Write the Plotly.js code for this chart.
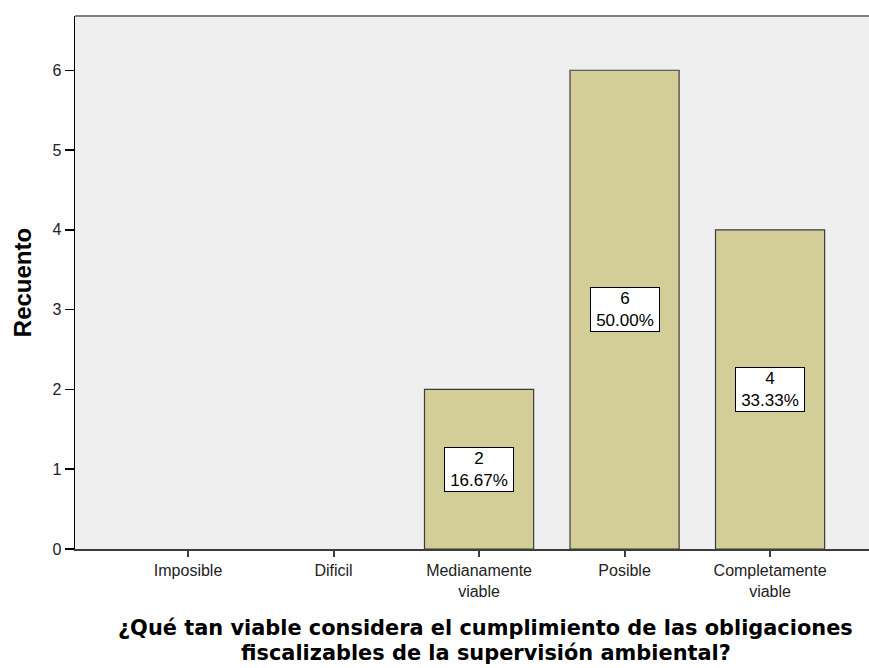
<!DOCTYPE html>
<html>
<head>
<meta charset="utf-8">
<script src="https://cdn.plot.ly/plotly-3.0.1.min.js"></script>
<style>html,body{margin:0;padding:0;background:#fff;}#chart{width:869px;height:668px;}</style>
</head>
<body>
<div id="chart"></div>
<script>
const categories = ["Imposible", "Dificil", "Medianamente<br>viable", "Posible", "Completamente<br>viable"];
const counts = [0, 0, 2, 6, 4];
const percents = ["0.00%", "0.00%", "16.67%", "50.00%", "33.33%"];
const yTicks = [0, 1, 2, 3, 4, 5, 6];
const xTitleLines = [
  "¿Qué tan viable considera el cumplimiento de las obligaciones",
  "fiscalizables de la supervisión ambiental?"
];

const trace = {
  type: "bar",
  x: categories,
  y: counts.map(v => (v > 0 ? v : null)),
  width: 0.75,
  marker: {color: "#d3ce97", line: {color: "#3c3c3c", width: 1.2}},
  hoverinfo: "none"
};

const annotations = [];
categories.forEach((c, i) => {
  if (counts[i] > 0) {
    annotations.push({
      x: c, y: counts[i] / 2, xref: "x", yref: "y",
      text: counts[i] + "<br>" + percents[i],
      showarrow: false,
      font: {family: "Liberation Sans, Arial, sans-serif", size: 17, color: "#000"},
      bgcolor: "#ffffff", bordercolor: "#000000", borderwidth: 1, borderpad: 1,
      width: 66, align: "center"
    });
  }
});
xTitleLines.forEach((line, k) => {
  annotations.push({
    xref: "paper", yref: "paper", x: 0.5176, y: 0, yshift: -79 - 24.5 * k, yanchor: "middle",
    text: line,
    showarrow: false,
    font: {family: "DejaVu Sans, sans-serif", size: 20.9, color: "#000", weight: "bold"},
    align: "center"
  });
});

const layout = {
  width: 869, height: 668,
  margin: {l: 75, r: 0, t: 16, b: 119},
  paper_bgcolor: "#ffffff",
  plot_bgcolor: "#efefef",
  showlegend: false,
  xaxis: {
    type: "category",
    range: [-0.777, 4.68],
    showgrid: false, zeroline: false,
    showline: true, linecolor: "#3c3c3c", linewidth: 1.5,
    ticks: "outside", ticklen: 6, tickcolor: "#3c3c3c", tickwidth: 2,
    tickfont: {family: "Liberation Sans, Arial, sans-serif", size: 16, color: "#222"},
    fixedrange: true
  },
  yaxis: {
    range: [0, 6.68],
    tickvals: yTicks,
    ticktext: yTicks.map(String),
    showgrid: false, zeroline: false,
    showline: true, linecolor: "#000", linewidth: 1.5,
    ticks: "outside", ticklen: 9, tickcolor: "#000", tickwidth: 1.5,
    tickfont: {family: "Liberation Sans, Arial, sans-serif", size: 16, color: "#222"},
    title: {text: "Recuento", font: {family: "Liberation Sans, Arial, sans-serif", size: 24, color: "#000", weight: "bold"}, standoff: 14},
    fixedrange: true
  },
  shapes: [{
    type: "line", xref: "paper", yref: "paper", x0: 0, x1: 1, y0: 1, y1: 1,
    line: {color: "#808080", width: 2}
  }],
  annotations: annotations
};

Plotly.newPlot("chart", [trace], layout, {displayModeBar: false, staticPlot: true});
</script>
</body>
</html>
